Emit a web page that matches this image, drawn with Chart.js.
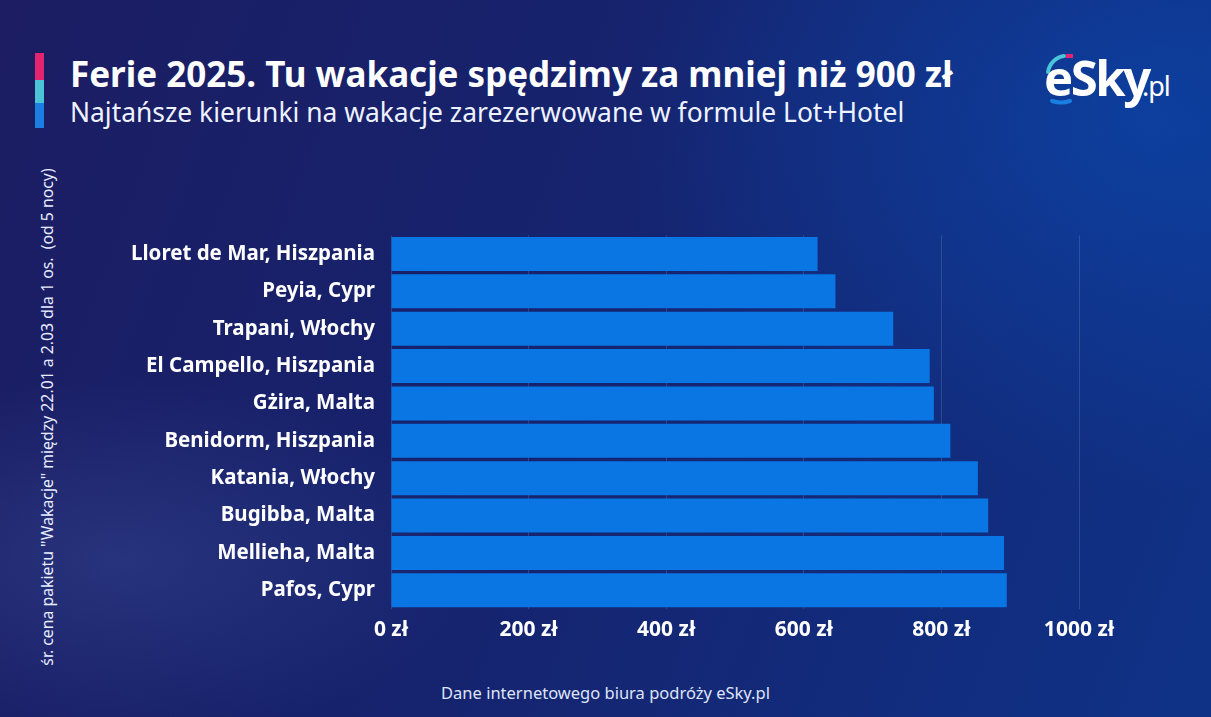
<!DOCTYPE html>
<html lang="pl">
<head>
<meta charset="utf-8">
<title>Ferie 2025</title>
<script src="https://cdn.jsdelivr.net/npm/chart.js@4"></script>
<style>
  html, body { margin: 0; padding: 0; }
  body {
    width: 1211px; height: 717px; overflow: hidden; position: relative;
    font-family: "Noto Sans", "Open Sans", sans-serif; color: #fff;
    background:
      radial-gradient(ellipse 500px 260px at 120px 560px, rgba(90,120,200,0.22), rgba(0,0,0,0) 70%),
      radial-gradient(ellipse 700px 500px at 1150px 120px, rgba(10,75,180,0.6), rgba(0,0,0,0) 75%),
      linear-gradient(110deg, #1c1d62 0%, #16236e 45%, #0f3287 100%);
  }
  .stripe { position: absolute; left: 35px; width: 9px; }
  .title { position: absolute; left: 70px; top: 52px; font-size: 35px; font-weight: 700; white-space: nowrap; line-height: 44px; }
  .subtitle { position: absolute; left: 70px; top: 95px; font-size: 26.4px; font-weight: 400; white-space: nowrap; color: #eef2ff; line-height: 34px; }
  .ylabel { position: absolute; left: 47px; top: 417px; transform: translate(-50%, -50%) rotate(-90deg);
    font-size: 15.8px; white-space: nowrap; color: #e8ecff; }
  .footer { position: absolute; left: 0; width: 1211px; top: 681px; text-align: center; font-size: 16.5px; color: #dfe4fa; }
  .logo { position: absolute; left: 1036px; top: 44px; width: 150px; height: 64px; }
  #wrap { position: absolute; left: 0; top: 207px; width: 1211px; height: 453px; }
</style>
</head>
<body>
<div class="stripe" style="top:53px;height:27px;background:#e3246f"></div>
<div class="stripe" style="top:80px;height:23px;background:#4cc4d8"></div>
<div class="stripe" style="top:103px;height:25px;background:#1a7ee2"></div>
<div class="title">Ferie 2025. Tu wakacje spędzimy za mniej niż 900 zł</div>
<div class="subtitle">Najtańsze kierunki na wakacje zarezerwowane w formule Lot+Hotel</div>

<svg class="logo" viewBox="0 0 150 64">
  <path d="M12 28 A 19 19 0 0 1 28 12" stroke="#4cc4d8" stroke-width="4" fill="none" stroke-linecap="round"/>
  <rect x="30" y="10" width="7" height="4" fill="#e3246f"/>
  <path d="M16 57 Q 25 60 34 57" stroke="#1a7ee2" stroke-width="4" fill="none" stroke-linecap="round"/>
  <text x="8" y="52" font-family="Noto Sans" font-weight="700" font-size="49" fill="#fff" letter-spacing="-2.5">eSky</text>
  <text x="106" y="52" font-family="Noto Sans" font-weight="400" font-size="27" fill="#fff" letter-spacing="-1">.pl</text>
</svg>

<div class="ylabel">śr. cena pakietu "Wakacje" między 22.01 a 2.03 dla 1 os.&nbsp;&nbsp;(od 5 nocy)</div>
<div id="wrap"><canvas id="chart"></canvas></div>
<div class="footer">Dane internetowego biura podróży eSky.pl</div>

<script>
// Data
const DESTINATIONS = [
  'Lloret de Mar, Hiszpania',
  'Peyia, Cypr',
  'Trapani, Włochy',
  'El Campello, Hiszpania',
  'Gżira, Malta',
  'Benidorm, Hiszpania',
  'Katania, Włochy',
  'Bugibba, Malta',
  'Mellieha, Malta',
  'Pafos, Cypr'
];
const PRICES = [620, 646, 730, 783, 789, 813, 853, 868, 891, 895];
const PRICE_TICKS = [0, 200, 400, 600, 800, 1000];

const WRAP_BOTTOM = 660; // page y of the canvas bottom
const AXIS_LEFT = 391;   // where 0 zł sits
const AXIS_BOTTOM = 609; // bottom of plot area

new Chart(document.getElementById('chart'), {
  type: 'bar',
  data: {
    labels: DESTINATIONS,
    datasets: [{
      data: PRICES,
      backgroundColor: '#0976e4',
      borderWidth: 0,
      categoryPercentage: 1,
      barPercentage: 0.91
    }]
  },
  options: {
    indexAxis: 'y',
    responsive: true,
    maintainAspectRatio: false,
    animation: false,
    layout: { padding: { top: 4, right: 132, left: 0, bottom: 0 } },
    plugins: { legend: { display: false }, tooltip: { enabled: false } },
    scales: {
      x: {
        min: 0,
        max: 1000,
        afterBuildTicks: scale => { scale.ticks = PRICE_TICKS.map(v => ({ value: v })); },
        afterFit: scale => { scale.height = WRAP_BOTTOM - AXIS_BOTTOM; },
        grid: { color: 'rgba(255,255,255,0.13)', lineWidth: 1, drawTicks: false },
        border: { display: false },
        ticks: {
          padding: 8,
          color: '#ffffff',
          font: { family: 'Noto Sans', weight: '700', size: 21 },
          callback: v => v + ' zł'
        }
      },
      y: {
        afterFit: scale => { scale.width = AXIS_LEFT; },
        grid: { display: false, drawTicks: false },
        border: { display: false },
        ticks: {
          padding: 16,
          color: '#ffffff',
          font: { family: 'Noto Sans', weight: '700', size: 20.5 }
        }
      }
    }
  }
});
</script>
</body>
</html>
